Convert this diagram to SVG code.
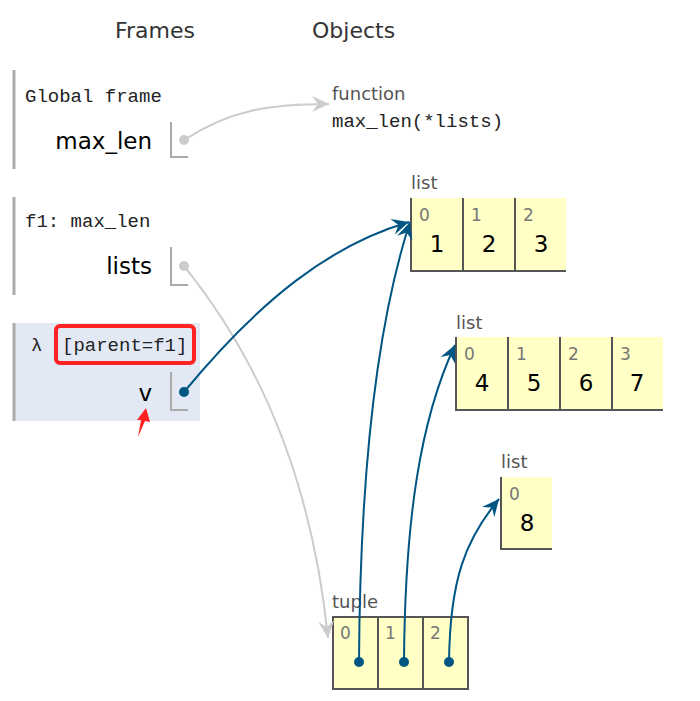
<svg xmlns="http://www.w3.org/2000/svg" width="700" height="701" viewBox="0 0 700 701">
<style>
.title{font-family:"DejaVu Sans",Verdana,sans-serif;font-size:22px;fill:#333}
.mono{font-family:"Liberation Mono","Courier New",monospace;font-size:19px;fill:#222}
.var{font-family:"DejaVu Sans",Verdana,sans-serif;font-size:23px;fill:#000;text-anchor:end}
.otype{font-family:"DejaVu Sans",Verdana,sans-serif;font-size:18px;fill:#555}
.idx{font-family:"DejaVu Sans",Verdana,sans-serif;font-size:17px;fill:#777}
.val{font-family:"DejaVu Sans",Verdana,sans-serif;font-size:23px;fill:#000;text-anchor:middle}
.bar{stroke:#aaa;stroke-width:3;fill:none}
.ptr{stroke:#aaa;stroke-width:2;fill:none}
.cell{fill:#ffffc6;stroke:none}
.border{stroke:#555;stroke-width:2;fill:none}
.blue{stroke:#005583;stroke-width:2;fill:none}
.gray{stroke:#ccc;stroke-width:2;fill:none}
</style>
<defs>
<marker id="ab" markerUnits="userSpaceOnUse" markerWidth="22" markerHeight="22" viewBox="-18 -11 22 22" refX="0" refY="0" orient="auto">
<path d="M0,0 L-17,-8 L-11,0 L-17,8 Z" fill="#005583"/>
</marker>
<marker id="ag" markerUnits="userSpaceOnUse" markerWidth="22" markerHeight="22" viewBox="-18 -11 22 22" refX="0" refY="0" orient="auto">
<path d="M0,0 L-17,-8 L-11,0 L-17,8 Z" fill="#ccc"/>
</marker>
</defs>
<rect width="700" height="701" fill="#fff"/>
<text class="title" x="115" y="38">Frames</text>
<text class="title" x="312" y="38">Objects</text>

<g id="global-frame">
<line class="bar" x1="14" y1="70" x2="14" y2="169"/>
<text class="mono" x="25" y="102">Global frame</text>
<text class="var" x="152" y="149">max_len</text>
<path class="ptr" d="M171,122 V157 H188"/>
<circle cx="184" cy="140" r="5" fill="#ccc"/>
</g>

<g id="f1-frame">
<line class="bar" x1="14" y1="197" x2="14" y2="295"/>
<text class="mono" x="25" y="227">f1: max_len</text>
<text class="var" x="152" y="274">lists</text>
<path class="ptr" d="M171,247 V285 H188"/>
<circle cx="184" cy="266" r="5" fill="#ccc"/>
</g>

<g id="lambda-frame">
<rect x="13" y="323" width="187" height="98" fill="#e2e9f5"/>
<line class="bar" x1="14" y1="323" x2="14" y2="421"/>
<text class="mono" x="31" y="351">λ</text>
<text class="mono" x="62" y="351">[parent=f1]</text>
<rect x="56" y="326" width="138" height="37" rx="4" fill="none" stroke="#f22" stroke-width="4"/>
<text class="var" x="152" y="401">v</text>
<path class="ptr" d="M171,372 V410 H188"/>
<circle cx="184" cy="392" r="5" fill="#005583"/>
<path d="M146,408 L150,422 L145,421 L138,437 L141,420 L137,420 Z" fill="#f22"/>
</g>

<g id="function-obj">
<text class="otype" x="332" y="100">function</text>
<text class="mono" x="332" y="127">max_len(*lists)</text>
</g>

<g id="list1">
<text class="otype" x="411" y="189">list</text>
<rect class="cell" x="411" y="198" width="155" height="72"/>
<path class="border" d="M411,198 V271 H566 M463,198 V271 M515,198 V271"/>
<text class="idx" x="419" y="221">0</text>
<text class="idx" x="471" y="221">1</text>
<text class="idx" x="523" y="221">2</text>
<text class="val" x="437" y="252">1</text>
<text class="val" x="489" y="252">2</text>
<text class="val" x="541" y="252">3</text>
</g>

<g id="list2">
<text class="otype" x="456" y="329">list</text>
<rect class="cell" x="456" y="337" width="207" height="73"/>
<path class="border" d="M456,337 V410 H663 M508,337 V410 M560,337 V410 M612,337 V410"/>
<text class="idx" x="464" y="360">0</text>
<text class="idx" x="516" y="360">1</text>
<text class="idx" x="568" y="360">2</text>
<text class="idx" x="620" y="360">3</text>
<text class="val" x="482" y="391">4</text>
<text class="val" x="534" y="391">5</text>
<text class="val" x="586" y="391">6</text>
<text class="val" x="637" y="391">7</text>
</g>

<g id="list3">
<text class="otype" x="501" y="468">list</text>
<rect class="cell" x="501" y="477" width="51" height="72"/>
<path class="border" d="M501,477 V549 H552"/>
<text class="idx" x="509" y="500">0</text>
<text class="val" x="527" y="531">8</text>
</g>

<g id="tuple">
<text class="otype" x="332" y="608">tuple</text>
<rect class="cell" x="333" y="617" width="135" height="72"/>
<path class="border" d="M333,617 H468 V689 H333 Z M378,617 V689 M423,617 V689"/>
<text class="idx" x="340" y="639">0</text>
<text class="idx" x="385" y="639">1</text>
<text class="idx" x="430" y="639">2</text>
</g>

<g id="connectors">
<path class="gray" d="M184,140 C230,110 270,104 329,104" marker-end="url(#ag)"/>
<path class="gray" d="M184,266 C260,360 312,480 328,638" marker-end="url(#ag)"/>
<path class="blue" d="M184,392 C260,300 330,245 409,222" marker-end="url(#ab)"/>
<path class="blue" d="M359,662 C360,480 375,330 410,222" marker-end="url(#ab)"/>
<path class="blue" d="M404,662 C405,520 420,420 455,345" marker-end="url(#ab)"/>
<path class="blue" d="M449,662 C450,580 465,540 499,499" marker-end="url(#ab)"/>
<circle cx="359" cy="662" r="5" fill="#005583"/>
<circle cx="404" cy="662" r="5" fill="#005583"/>
<circle cx="449" cy="662" r="5" fill="#005583"/>
</g>
</svg>
